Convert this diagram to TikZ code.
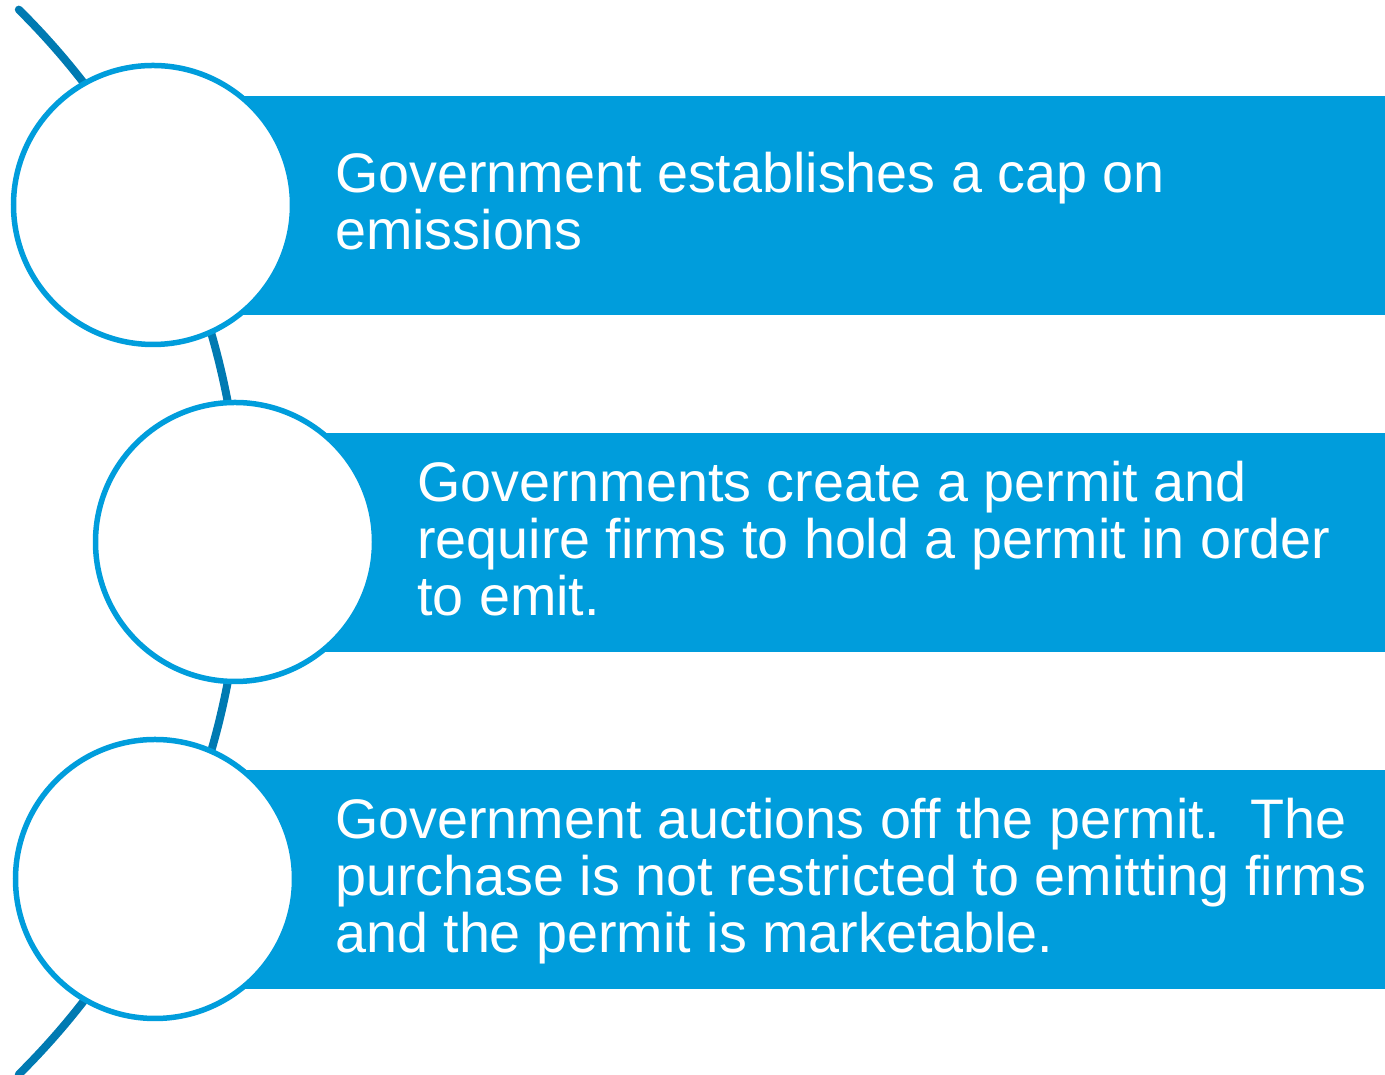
\documentclass[tikz,border=0pt]{standalone}
\usepackage{fontspec}
\setmainfont{Liberation Sans}
\usepackage{xcolor}
\definecolor{barblue}{RGB}{0,157,220}
\definecolor{spineblue}{RGB}{0,122,178}
\tikzset{
  bar/.style={fill=barblue,draw=none},
  ring/.style={circle,draw=barblue,fill=white,line width=5.5pt,minimum size=279pt,inner sep=0pt},
  caption/.style={anchor=base west,inner sep=0pt,align=left,text=white,font=\fontsize{55.7}{57.3}\selectfont}
}

\begin{document}
\begin{tikzpicture}[x=1pt,y=1pt]
    \useasboundingbox (0,0) rectangle (1385,1075);
    % spine behind the circles
    \coordinate (hub) at (-508,533);
    \draw[spineblue,line width=8pt,line cap=round]
      (hub) ++(45.3:749pt) arc[start angle=45.3,end angle=-45.3,radius=749pt];
    % bars
    \fill[bar] (155,760) rectangle (1385,979);
    \fill[bar] (235,423) rectangle (1385,642);
    \fill[bar] (155,86) rectangle (1385,305);
    % circles
    \node[ring] (cap) at (153,870) {};
    \node[ring] (permit) at (235,533) {};
    \node[ring] (auction) at (155,196) {};
    % texts (anchored at the baseline of the last line)
    \node[caption] (captext) at (335,825) {Government establishes a cap on\\emissions};
    \node[caption] (permittext) at (417,459) {Governments create a permit and\\require firms to hold a permit in order\\to emit.};
    \node[caption] (auctiontext) at (335,122) {Government auctions off the permit.\ \ The\\purchase is not restricted to emitting firms\\and the permit is marketable.};
\end{tikzpicture}
\end{document}
